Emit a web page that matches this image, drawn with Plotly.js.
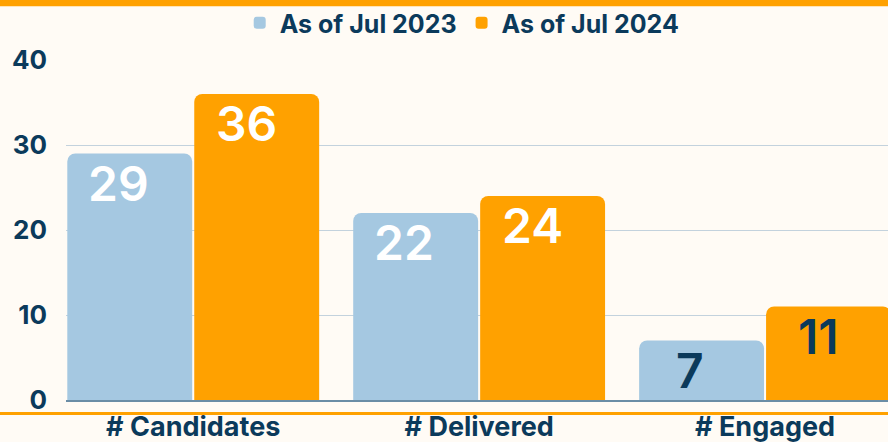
<!DOCTYPE html>
<html>
<head>
<meta charset="utf-8">
<script src="https://cdn.plot.ly/plotly-3.0.1.min.js"></script>
<style>
  html, body { margin: 0; padding: 0; background: #FFFBF5; }
  #chart { width: 888px; height: 442px; }
</style>
</head>
<body>
<div id="chart"></div>
<script>
// ---- data ----
const categories = ["# Candidates", "# Delivered", "# Engaged"];
const series2023 = [29, 22, 7];
const series2024 = [36, 24, 11];
const seriesNames = ["As of Jul 2023", "As of Jul 2024"];
const labelColors2023 = ["#FFFFFF", "#FFFFFF", "#0B3A5B"];
const labelColors2024 = ["#FFFFFF", "#FFFFFF", "#0B3A5B"];
const yTicks = [0, 10, 20, 30, 40];

// ---- style ----
const NAVY = "#0B3A5B";
const BLUE = "#A5C8E1";
const ORANGE = "#FFA100";
const BG = "#FFFBF5";
const FONT = "Inter, 'Noto Sans', sans-serif";

const traces = [
  { type: "bar", name: seriesNames[0], x: categories, y: series2023,
    marker: { color: BLUE, cornerradius: 8 }, hoverinfo: "skip" },
  { type: "bar", name: seriesNames[1], x: categories, y: series2024,
    marker: { color: ORANGE, cornerradius: 8 }, hoverinfo: "skip" }
];

// value labels, anchored to bars via data coordinates
const annotations = [];
function addLabels(values, colors, side) {
  values.forEach((v, i) => {
    annotations.push({
      x: categories[i], y: v, xref: "x", yref: "y",
      text: String(v), showarrow: false,
      xanchor: "center", yanchor: "top",
      xshift: side * 64 - 11, yshift: 2,
      font: { family: FONT, size: 48, color: colors[i], weight: 600 }
    });
  });
}
addLabels(series2023, labelColors2023, -1);
addLabels(series2024, labelColors2024, 1);

const layout = {
  width: 888, height: 442,
  paper_bgcolor: BG, plot_bgcolor: BG,
  margin: { l: 66, r: 0, t: 58, b: 42 },
  barmode: "group", bargap: 0.112, bargroupgap: 0.016,
  font: { family: FONT, color: NAVY },
  showlegend: true,
  legend: {
    orientation: "h", x: 0.482, xanchor: "center", y: 1.11, yanchor: "middle",
    font: { family: FONT, size: 25, color: NAVY, weight: 700 },
    bgcolor: "rgba(0,0,0,0)", itemwidth: 30, traceorder: "normal"
  },
  xaxis: {
    type: "category", range: [-0.445, 2.43],
    showgrid: false, zeroline: false,
    showline: true, linecolor: "#6A8DA6", linewidth: 2,
    ticks: "", ticklabelstandoff: 2,
    tickfont: { family: FONT, size: 27, color: NAVY, weight: 700 },
    fixedrange: true
  },
  yaxis: {
    range: [0, 40], tickvals: yTicks, ticktext: yTicks.map(String),
    showgrid: true, gridcolor: "#C3D2DD", gridwidth: 1,
    zeroline: false, showline: false, ticks: "",
    ticklabelstandoff: 18,
    tickfont: { family: FONT, size: 26, color: NAVY, weight: 700 },
    fixedrange: true
  },
  annotations: annotations,
  shapes: [
    { type: "rect", xref: "paper", yref: "paper", x0: -0.1, x1: 1.1,
      y0: 1.158, y1: 1.18, fillcolor: ORANGE, line: { width: 0 }, layer: "above" },
    { type: "rect", xref: "paper", yref: "paper", x0: -0.1, x1: 1.1,
      y0: -0.0439, y1: -0.0351, fillcolor: ORANGE, line: { width: 0 }, layer: "above" }
  ]
};

Plotly.newPlot("chart", traces, layout, { displayModeBar: false, staticPlot: true });
</script>
</body>
</html>
